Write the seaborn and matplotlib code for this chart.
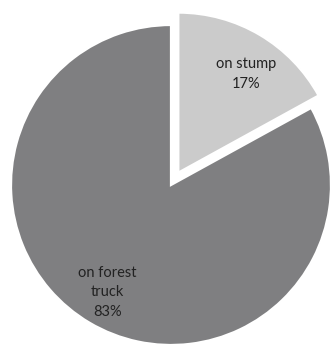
import matplotlib
matplotlib.use("Agg")
import matplotlib.pyplot as plt
import seaborn as sns
import numpy as np

sns.set_theme(style="white")
plt.rcParams["font.family"] = ["Lato", "DejaVu Sans"]

categories = ["on stump", "on forest\ntruck"]
shares = [17, 83]
colors = ["#cbcbcb", "#7f7f81"]
explode_frac = [0.09, 0.0]

W, H = 332, 349
fig = plt.figure(figsize=(W / 100, H / 100), dpi=100)
ax = fig.add_axes([0, 0, 1, 1])

cx, cy, r = 171, H - 185, 160
wedges, _ = ax.pie(
    shares,
    colors=colors,
    explode=[e * r for e in explode_frac],
    startangle=90,
    counterclock=False,
    center=(cx, cy),
    radius=r,
    frame=True,
    wedgeprops=dict(edgecolor="white", linewidth=1.6),
)
ax.set_xlim(0, W)
ax.set_ylim(0, H)
ax.set_aspect("equal")
ax.axis("off")

# labels placed inside each wedge, near its bisector
label_dist = [0.75, 0.78]
label_turn = [-4.0, 0.0]
for w, name, val, d, t in zip(wedges, categories, shares, label_dist, label_turn):
    theta = np.deg2rad((w.theta1 + w.theta2) / 2 + t)
    x0, y0 = w.center
    ax.text(x0 + d * r * np.cos(theta), y0 + d * r * np.sin(theta),
            f"{name}\n{val}%", ha="center", va="center",
            fontsize=10.5, color="#222222", linespacing=1.5)

fig.savefig("out.png", dpi=100)
